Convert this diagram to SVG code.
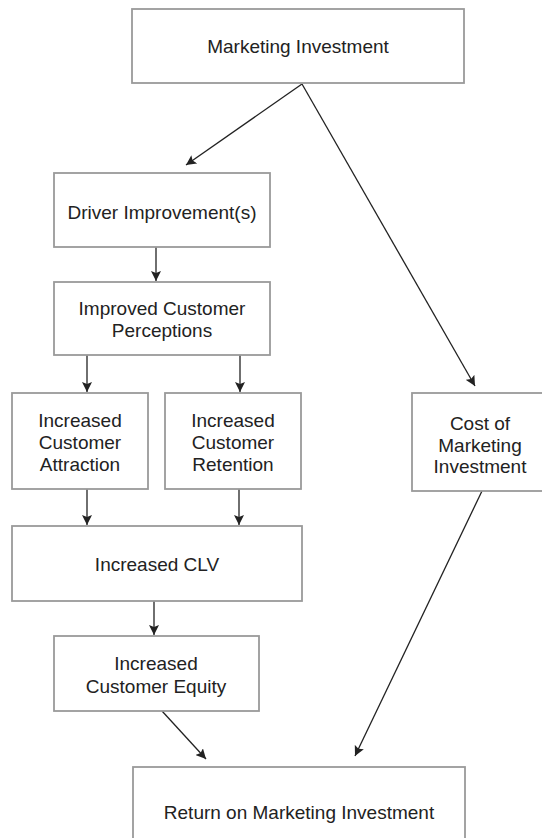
<svg xmlns="http://www.w3.org/2000/svg" width="542" height="838" viewBox="0 0 542 838">
<style>
.box{fill:#fff;stroke:#9a9a9a;stroke-width:1.8}
text{font-family:"Liberation Sans",Arial,sans-serif;font-size:19px;fill:#222;text-anchor:middle}
.c{fill:none;stroke:#222;stroke-width:1.3;marker-end:url(#ah)}
</style>
<defs>
<marker id="ah" viewBox="0 0 10 10" refX="10" refY="5" markerWidth="10" markerHeight="10" markerUnits="userSpaceOnUse" orient="auto">
<path d="M0,0 L10,5 L0,10 L2,5 Z" fill="#222"/>
</marker>
</defs>
<rect width="542" height="838" fill="#fff"/>
<g id="connectors">
<line class="c" x1="302" y1="84" x2="186" y2="165"/>
<line class="c" x1="302" y1="84" x2="475" y2="386"/>
<line class="c" x1="156" y1="247" x2="156" y2="281"/>
<line class="c" x1="87" y1="355" x2="87" y2="392"/>
<line class="c" x1="240" y1="355" x2="240" y2="392"/>
<line class="c" x1="87" y1="489" x2="87" y2="525"/>
<line class="c" x1="239" y1="489" x2="239" y2="525"/>
<line class="c" x1="154" y1="601" x2="154" y2="635"/>
<line class="c" x1="162" y1="711" x2="206" y2="759"/>
<line class="c" x1="482" y1="491" x2="355" y2="756"/>
</g>
<g id="marketing-investment">
<rect class="box" x="132" y="9" width="332" height="74"/>
<text x="298" y="53">Marketing Investment</text>
</g>
<g id="driver-improvements">
<rect class="box" x="54" y="173" width="216" height="74"/>
<text x="162" y="219">Driver Improvement(s)</text>
</g>
<g id="improved-perceptions">
<rect class="box" x="54" y="282" width="216" height="73"/>
<text x="162" y="315">Improved Customer</text>
<text x="162" y="337">Perceptions</text>
</g>
<g id="attraction">
<rect class="box" x="12" y="393" width="136" height="96"/>
<text x="80" y="427">Increased</text>
<text x="80" y="449">Customer</text>
<text x="80" y="471">Attraction</text>
</g>
<g id="retention">
<rect class="box" x="165" y="393" width="136" height="96"/>
<text x="233" y="427">Increased</text>
<text x="233" y="449">Customer</text>
<text x="233" y="471">Retention</text>
</g>
<g id="cost">
<rect class="box" x="412" y="393" width="136" height="98"/>
<text x="480" y="430">Cost of</text>
<text x="480" y="452">Marketing</text>
<text x="480" y="473">Investment</text>
</g>
<g id="clv">
<rect class="box" x="12" y="526" width="290" height="75"/>
<text x="157" y="571">Increased CLV</text>
</g>
<g id="customer-equity">
<rect class="box" x="54" y="636" width="205" height="75"/>
<text x="156" y="670">Increased</text>
<text x="156" y="693">Customer Equity</text>
</g>
<g id="return">
<rect class="box" x="133" y="767" width="332" height="90"/>
<text x="299" y="819">Return on Marketing Investment</text>
</g>
</svg>
